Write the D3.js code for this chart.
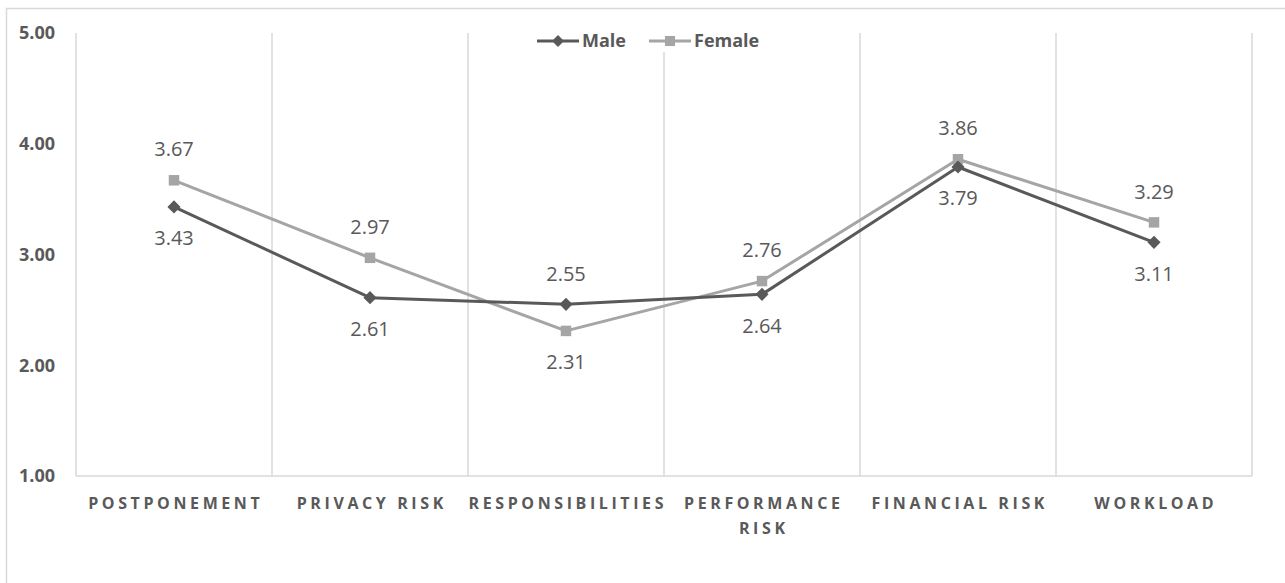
<!DOCTYPE html>
<html>
<head>
<meta charset="utf-8">
<script src="https://cdn.jsdelivr.net/npm/d3@7"></script>
<style>
  html, body { margin: 0; padding: 0; background: #fff; }
  svg { display: block; }
</style>
</head>
<body>
<svg id="chart" width="1285" height="583"></svg>
<script>
// Risk perception scores by gender
const categories = [["POSTPONEMENT"], ["PRIVACY RISK"], ["RESPONSIBILITIES"], ["PERFORMANCE", "RISK"], ["FINANCIAL RISK"], ["WORKLOAD"]];
const maleValues   = [3.43, 2.61, 2.55, 2.64, 3.79, 3.11];
const femaleValues = [3.67, 2.97, 2.31, 2.76, 3.86, 3.29];
const yTicks = [1, 2, 3, 4, 5];
// label above (-1) or below (+1) each point
const maleLabelSide   = [1, 1, -1, 1, 1, 1];
const femaleLabelSide = [-1, -1, 1, -1, -1, -1];

const W = 1285, H = 583;
const plot = { left: 76, right: 1252, top: 33, bottom: 476 };
const svg = d3.select("#chart");
const textColor = "#595959";
const gridColor = "#d9d9d9";
const maleColor = "#595959";
const femaleColor = "#a5a5a5";
const font = "'Open Sans', sans-serif";

// outer chart border
svg.append("rect")
  .attr("x", 6.5).attr("y", 8.5)
  .attr("width", W + 20).attr("height", H + 20)
  .attr("fill", "none").attr("stroke", gridColor).attr("stroke-width", 1.5);

const idx = d3.range(categories.length);
const x = d3.scaleBand().domain(idx).range([plot.left, plot.right]).padding(0);
const y = d3.scaleLinear().domain([1, 5]).range([plot.bottom, plot.top]);
const cx = i => x(i) + x.bandwidth() / 2;

// vertical category separators
const seps = idx.map(i => x(i)).concat([plot.right]);
svg.append("g").selectAll("line").data(seps).join("line")
  .attr("x1", d => d).attr("x2", d => d)
  .attr("y1", plot.top).attr("y2", plot.bottom)
  .attr("stroke", gridColor).attr("stroke-width", 1.5);

// category axis line
svg.append("line")
  .attr("x1", plot.left).attr("x2", plot.right)
  .attr("y1", plot.bottom).attr("y2", plot.bottom)
  .attr("stroke", gridColor).attr("stroke-width", 1.5);

// value axis labels
const yAxis = d3.axisLeft(y).tickValues(yTicks).tickFormat(d3.format(".2f")).tickSize(0).tickPadding(21);
const yg = svg.append("g").attr("transform", `translate(${plot.left},0)`).call(yAxis);
yg.select(".domain").remove();
yg.attr("font-size", null).attr("font-family", null);
yg.selectAll("text")
  .attr("fill", textColor)
  .style("font-family", font)
  .style("font-size", "18px")
  .style("font-weight", "700");

// category labels
const catG = svg.append("g");
const ls = 3.6;
categories.forEach((lines, i) => {
  const t = catG.append("text")
    .attr("y", 509)
    .attr("text-anchor", "middle")
    .attr("fill", textColor)
    .style("font-family", font)
    .style("font-size", "16px")
    .style("font-weight", "700")
    .style("letter-spacing", ls + "px");
  lines.forEach((s, k) => {
    t.append("tspan").attr("x", cx(i) + ls / 2).attr("dy", k === 0 ? 0 : 25).text(s);
  });
});

const line = d3.line().x((d, i) => cx(i)).y(d => y(d));

function drawSeries(values, color, shape, sides) {
  const g = svg.append("g");
  g.append("path").datum(values)
    .attr("d", line)
    .attr("fill", "none").attr("stroke", color).attr("stroke-width", 3)
    .attr("stroke-linejoin", "round");
  const sym = d3.symbol().type(shape === "diamond" ? d3.symbolDiamond2 : d3.symbolSquare2)
    .size(shape === "diamond" ? 110 : 140);
  g.selectAll("path.mk").data(values).join("path")
    .attr("class", "mk")
    .attr("d", sym)
    .attr("transform", (d, i) => `translate(${cx(i)},${y(d)})`)
    .attr("fill", color);
  g.selectAll("text").data(values).join("text")
    .attr("x", (d, i) => cx(i))
    .attr("y", (d, i) => y(d) + sides[i] * 31)
    .attr("dy", "0.36em")
    .attr("text-anchor", "middle")
    .attr("fill", textColor)
    .style("font-family", font)
    .style("font-size", "20px")
    .text(d => d.toFixed(2));
}

drawSeries(femaleValues, femaleColor, "square", femaleLabelSide);
drawSeries(maleValues, maleColor, "diamond", maleLabelSide);

// legend
const legend = svg.append("g");
legend.append("rect").attr("x", 530).attr("y", 30).attr("width", 240).attr("height", 22).attr("fill", "#fff");
const items = [
  { name: "Male", color: maleColor, shape: "diamond", x0: 537 },
  { name: "Female", color: femaleColor, shape: "square", x0: 649 }
];
items.forEach(it => {
  const ly = 41;
  legend.append("line").attr("x1", it.x0).attr("x2", it.x0 + 42).attr("y1", ly).attr("y2", ly)
    .attr("stroke", it.color).attr("stroke-width", 3);
  const sym = d3.symbol().type(it.shape === "diamond" ? d3.symbolDiamond2 : d3.symbolSquare2)
    .size(it.shape === "diamond" ? 90 : 130);
  legend.append("path").attr("d", sym)
    .attr("transform", `translate(${it.x0 + 21},${ly})`)
    .attr("fill", it.color);
  legend.append("text").attr("x", it.x0 + 45).attr("y", ly).attr("dy", "0.35em")
    .attr("fill", textColor)
    .style("font-family", font)
    .style("font-size", "18px")
    .style("font-weight", "700")
    .text(it.name);
});
</script>
</body>
</html>
